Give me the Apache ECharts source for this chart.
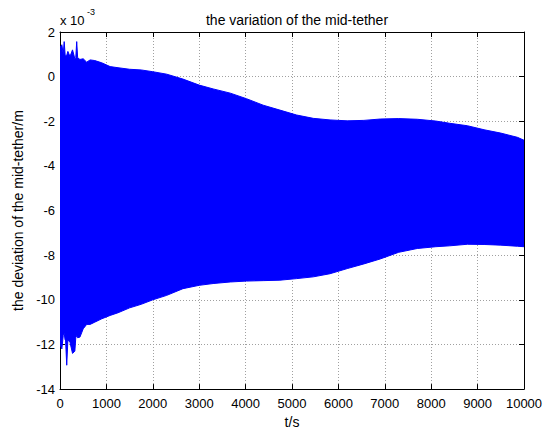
<!DOCTYPE html>
<html>
<head>
<meta charset="utf-8">
<script src="https://cdn.jsdelivr.net/npm/echarts@6/dist/echarts.min.js"></script>
<style>html,body{margin:0;padding:0;background:#fff}#c{width:550px;height:434px}</style>
</head>
<body>
<div id="c"></div>
<script>
// values in units of 1e-3 m (axis shows x 10^-3)
const times = [0, 40, 70, 90, 110, 120, 145, 170, 215, 270, 320, 340, 360, 380, 430, 500, 575, 650, 750, 900, 1080, 1250, 1500, 1750, 2000, 2300, 2650, 3000, 3300, 3670, 4020, 4380, 4740, 5100, 5460, 5820, 6190, 6550, 6900, 7300, 7700, 8100, 8400, 8780, 9140, 9500, 9860, 10000];
const upperEnv = [1.3, 1.43, 1.0, 1.57, 1.0, 0.95, 0.95, 1.13, 0.9, 1.2, 0.8, 0.85, 1.57, 0.85, 0.77, 0.8, 0.65, 0.75, 0.72, 0.62, 0.45, 0.4, 0.33, 0.3, 0.22, 0.11, -0.11, -0.38, -0.55, -0.74, -0.99, -1.28, -1.5, -1.72, -1.87, -1.94, -1.98, -1.96, -1.9, -1.88, -1.91, -1.99, -2.09, -2.2, -2.38, -2.53, -2.72, -2.85];
const lowerEnv = [-12.0, -12.2, -11.6, -11.5, -11.8, -11.8, -12.93, -11.8, -11.9, -12.4, -12.3, -11.7, -11.6, -11.7, -11.67, -11.3, -11.1, -11.1, -11.0, -10.85, -10.7, -10.58, -10.36, -10.2, -10.0, -9.8, -9.5, -9.35, -9.27, -9.2, -9.16, -9.14, -9.12, -9.05, -8.97, -8.83, -8.6, -8.39, -8.17, -7.87, -7.7, -7.62, -7.58, -7.51, -7.52, -7.55, -7.6, -7.62];
const xTicks = [0, 1000, 2000, 3000, 4000, 5000, 6000, 7000, 8000, 9000, 10000];
const yTicks = [-14, -12, -10, -8, -6, -4, -2, 0, 2];

const chart = echarts.init(document.getElementById('c'), null, {renderer: 'svg'});
const FONT = 'Liberation Sans, Arial, sans-serif';
const envData = times.map((t, i) => [t, lowerEnv[i], upperEnv[i]]);

const gridLine = {show: true, lineStyle: {color: '#a0a0a0', width: 1, type: [1, 2]}};
const axisCommon = {
  axisLine: {show: true, onZero: false, lineStyle: {color: '#000', width: 1}},
  axisTick: {show: true, inside: true, length: 5, lineStyle: {color: '#000'}},
};

function renderBand(params, api) {
  if (params.dataIndex !== 0) return null;
  const pts = [];
  for (let i = 0; i < times.length; i++) pts.push(api.coord([times[i], upperEnv[i]]));
  for (let i = times.length - 1; i >= 0; i--) pts.push(api.coord([times[i], lowerEnv[i]]));
  return {
    type: 'polygon',
    shape: {points: pts},
    style: {fill: '#0000ff', stroke: '#0000ff', lineWidth: 1}
  };
}

chart.setOption({
  animation: false,
  backgroundColor: '#fff',
  title: {
    text: 'the variation of the mid-tether',
    left: 292, top: 8, textAlign: 'center',
    textStyle: {fontFamily: FONT, fontSize: 14, fontWeight: 'normal', color: '#000'}
  },
  graphic: [
    {type: 'text', left: 60, top: 14, style: {text: 'x 10', font: '13px ' + FONT, fill: '#000'}},
    {type: 'text', left: 87, top: 7, style: {text: '-3', font: '9px ' + FONT, fill: '#000'}}
  ],
  grid: {left: 60, right: 26, top: 32, bottom: 38, containLabel: false},
  xAxis: [
    Object.assign({
      type: 'value', position: 'bottom', min: 0, max: 10000, interval: 1000,
      name: 't/s', nameLocation: 'middle', nameGap: 24,
      nameTextStyle: {fontFamily: FONT, fontSize: 14, color: '#000'},
      axisLabel: {fontFamily: FONT, fontSize: 13, color: '#000', margin: 8,
        customValues: xTicks, formatter: v => String(v)},
      splitLine: gridLine
    }, axisCommon),
    Object.assign({
      type: 'value', position: 'top', min: 0, max: 10000, interval: 1000,
      axisLabel: {show: false}, splitLine: {show: false}
    }, axisCommon)
  ],
  yAxis: [
    Object.assign({
      type: 'value', position: 'left', min: -14, max: 2, interval: 2,
      name: 'the deviation of the mid-tether/m', nameLocation: 'middle', nameGap: 33,
      nameTextStyle: {fontFamily: FONT, fontSize: 14, color: '#000'},
      axisLabel: {fontFamily: FONT, fontSize: 13, color: '#000', margin: 5,
        customValues: yTicks, formatter: v => String(v)},
      splitLine: gridLine
    }, axisCommon),
    Object.assign({
      type: 'value', position: 'right', min: -14, max: 2, interval: 2,
      axisLabel: {show: false}, splitLine: {show: false}
    }, axisCommon)
  ],
  series: [{
    type: 'custom',
    data: envData,
    encode: {x: 0, y: [1, 2]},
    renderItem: renderBand,
    silent: true,
    clip: true,
    z: 3
  }]
});
</script>
</body>
</html>
